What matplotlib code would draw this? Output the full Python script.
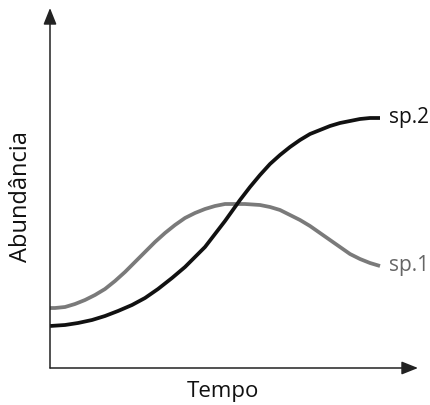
import matplotlib
matplotlib.use("Agg")
import matplotlib.pyplot as plt

# Data (arbitrary units; no ticks on the original)
t_sp1 = [0, 0.5, 1.5, 2.5, 3.5, 4.5, 5.5, 6.5, 7.5, 8.5, 9.5, 10.5, 11.5, 12.5, 13.5, 14.5,
         15.5, 16.5, 17.5, 18.5, 19.5, 21, 22, 23, 24, 25, 26, 27, 28, 29, 30, 31, 32, 33]
a_sp1 = [6.0, 6.0, 6.1, 6.4, 6.8, 7.3, 7.9, 8.7, 9.6, 10.6, 11.6, 12.6, 13.5, 14.3, 15.0, 15.5,
         15.9, 16.2, 16.4, 16.4, 16.4, 16.3, 16.1, 15.8, 15.3, 14.8, 14.2, 13.5, 12.8, 12.1, 11.4, 10.9, 10.5, 10.2]

t_sp2 = [0, 1.5, 2.8, 4.2, 5.5, 6.8, 8.2, 9.5, 10.8, 12.2, 13.5, 15.5, 16.5, 17.5, 18, 19, 20,
         21, 22, 23, 24, 25, 26, 27, 28, 29, 30, 31, 32, 33]
a_sp2 = [4.2, 4.3, 4.5, 4.8, 5.2, 5.7, 6.3, 7.0, 7.9, 9.0, 10.1, 12.1, 13.4, 14.7, 15.4, 16.8, 18.1,
         19.3, 20.4, 21.3, 22.1, 22.8, 23.4, 23.8, 24.2, 24.5, 24.7, 24.9, 25.0, 25.0]

series_labels = ["sp.1", "sp.2"]
x_label = "Tempo"
y_label = "Abundância"

plt.rcParams['font.family'] = ['Open Sans', 'DejaVu Sans']

fig = plt.figure(figsize=(4.31, 4.05), dpi=100)
ax = fig.add_axes([50/431, 37/405, (418-50)/431, (368-8)/405])
ax.set_xlim(0, 36.8)
ax.set_ylim(0, 36.0)
for s in ax.spines.values():
    s.set_visible(False)
ax.set_xticks([])
ax.set_yticks([])

ax.plot(t_sp1, a_sp1, color='#7a7a7a', lw=2.7, solid_capstyle='butt', solid_joinstyle='round')
ax.plot(t_sp2, a_sp2, color='#111111', lw=2.7, solid_capstyle='butt', solid_joinstyle='round')

ax.annotate(series_labels[1], xy=(t_sp2[-1], a_sp2[-1]), xytext=(6.5, 0),
            textcoords='offset points', va='center', ha='left', fontsize=15, color='#111111')
ax.annotate(series_labels[0], xy=(t_sp1[-1], a_sp1[-1]), xytext=(6.5, 0),
            textcoords='offset points', va='center', ha='left', fontsize=15, color='#666666')

# axis arrows
arrow_kw = dict(arrowstyle='-|>,head_length=1.0,head_width=0.4', lw=1.1, color='#222222',
                shrinkA=0, shrinkB=0)
ax.annotate('', xy=(1, 0), xytext=(0, 0), xycoords='axes fraction', textcoords='axes fraction',
            arrowprops=arrow_kw, annotation_clip=False)
ax.annotate('', xy=(0, 1), xytext=(0, 0), xycoords='axes fraction', textcoords='axes fraction',
            arrowprops=arrow_kw, annotation_clip=False)

fig.text(223/431, 1 - 392/405, x_label, ha='center', va='center', fontsize=16, color='#111111')
fig.text(21/431, 1 - 197/405, y_label, ha='center', va='center', rotation=90, fontsize=17, color='#111111')

fig.savefig('out.png', dpi=100)
